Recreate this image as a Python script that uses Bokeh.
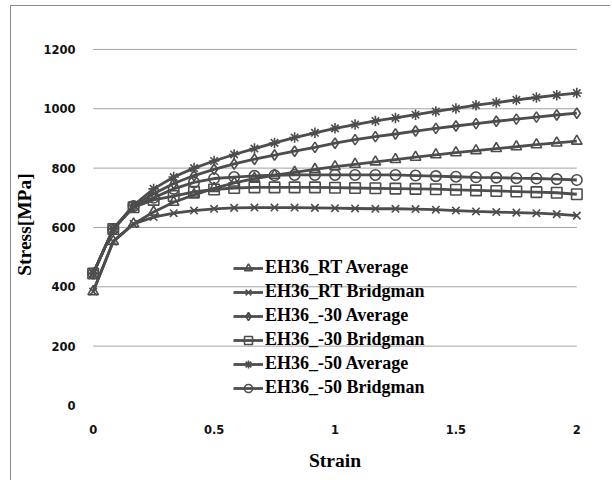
from bokeh.plotting import figure
from bokeh.models import Range1d, FixedTicker, Legend, LegendItem
from bokeh.embed import file_html
from bokeh.resources import INLINE

# Strain sampling points (true strain)
strain = [0.0, 0.083, 0.167, 0.25, 0.333, 0.417, 0.5, 0.583, 0.667, 0.75, 0.833,
          0.917, 1.0, 1.083, 1.167, 1.25, 1.333, 1.417, 1.5, 1.583, 1.667, 1.75,
          1.833, 1.917, 2.0]

# Flow stress [MPa] for each test condition
rt_avg = [384, 553, 612, 652, 685, 710, 732, 750, 765, 776, 786, 796, 805, 813,
          821, 829, 837, 845, 852, 859, 866, 872, 879, 885, 891]
rt_bridgman = [384, 553, 612, 635, 648, 657, 663, 666, 667, 667, 667, 666, 665,
               664, 663, 663, 662, 660, 657, 654, 652, 650, 648, 645, 640]
m30_avg = [445, 595, 672, 714, 748, 775, 796, 814, 830, 844, 857, 870, 884, 896,
           906, 915, 925, 934, 942, 950, 958, 965, 972, 979, 985]
m30_bridgman = [445, 595, 668, 693, 706, 720, 728, 733, 735, 735, 735, 735, 734,
                733, 732, 731, 730, 729, 727, 725, 723, 721, 719, 717, 712]
m50_avg = [445, 595, 675, 730, 770, 800, 824, 846, 866, 885, 903, 919, 934, 947,
           959, 969, 980, 991, 1001, 1012, 1021, 1030, 1038, 1046, 1053]
m50_bridgman = [445, 595, 672, 700, 730, 752, 765, 770, 774, 776, 777, 777, 777,
                777, 777, 777, 775, 773, 771, 769, 768, 766, 765, 763, 760]

series_names = ["EH36_RT Average", "EH36_RT Bridgman", "EH36_-30 Average",
                "EH36_-30 Bridgman", "EH36_-50 Average", "EH36_-50 Bridgman"]
series_values = [rt_avg, rt_bridgman, m30_avg, m30_bridgman, m50_avg, m50_bridgman]
series_markers = ["triangle", "x", "diamond", "square", "asterisk", "circle"]

x_ticks = [0, 0.5, 1, 1.5, 2]
x_tick_labels = ["0", "0.5", "1", "1.5", "2"]
y_ticks = [0, 200, 400, 600, 800, 1000, 1200]

INK = "#4d4d4d"
GRID = "#a3a3a3"

p = figure(width=600, height=475, output_backend="svg", toolbar_location=None,
           x_range=Range1d(-0.04, 2.04), y_range=Range1d(0, 1220),
           min_border_left=70, min_border_right=25,
           min_border_top=37, min_border_bottom=76,
           margin=(5, 0, 0, 10))
p.styles = {"border-top": "1px solid #8c8c8c", "border-left": "1px solid #8c8c8c"}
p.outline_line_color = None
p.background_fill_color = "white"
p.border_fill_color = "white"
p.xgrid.visible = False
p.ygrid.visible = False

# horizontal gridlines spanning the strain axis (none at zero)
n_grid = len(y_ticks) - 1
p.segment(x0=[x_ticks[0]] * n_grid, x1=[x_ticks[-1]] * n_grid,
          y0=y_ticks[1:], y1=y_ticks[1:], line_color=GRID, line_width=1)

items = []
for name, vals, mk in zip(series_names, series_values, series_markers):
    lr = p.line(strain, vals, line_color=INK, line_width=2.8)
    sr = p.scatter(strain, vals, marker=mk, size=10.5, line_color=INK,
                   fill_color=None, line_width=1.6)
    items.append(LegendItem(label=name, renderers=[lr, sr]))

for ax in (p.xaxis[0], p.yaxis[0]):
    ax.axis_line_color = None
    ax.major_tick_line_color = None
    ax.minor_tick_line_color = None
    ax.major_tick_out = 0
    ax.major_tick_in = 0
    ax.major_label_text_font = "DejaVu Sans"
    ax.major_label_text_font_style = "bold"
    ax.major_label_text_font_size = "11.5px"
    ax.major_label_text_color = "#111111"
    ax.axis_label_text_font = "Liberation Serif"
    ax.axis_label_text_font_style = "bold"
    ax.axis_label_text_font_size = "19.5px"
    ax.axis_label_text_color = "black"

p.xaxis.ticker = FixedTicker(ticks=x_ticks)
p.xaxis.major_label_overrides = dict(zip(x_ticks, x_tick_labels))
p.xaxis.major_label_standoff = 19
p.xaxis.axis_label = "Strain"
p.xaxis.axis_label_standoff = 13

p.yaxis.ticker = FixedTicker(ticks=y_ticks)
p.yaxis.major_label_standoff = 8
p.yaxis.axis_label = "Stress[MPa]"
p.yaxis.axis_label_standoff = 5

legend = Legend(items=items, location=(150, 7), orientation="vertical",
                border_line_color=None, background_fill_alpha=0,
                padding=0, margin=0, spacing=3, glyph_width=30,
                glyph_height=20, label_height=20, label_standoff=2,
                label_text_font="Liberation Serif", label_text_font_style="bold",
                label_text_font_size="18px", label_text_color="black")
p.add_layout(legend)

open("out.html", "w").write(file_html(p, INLINE))
